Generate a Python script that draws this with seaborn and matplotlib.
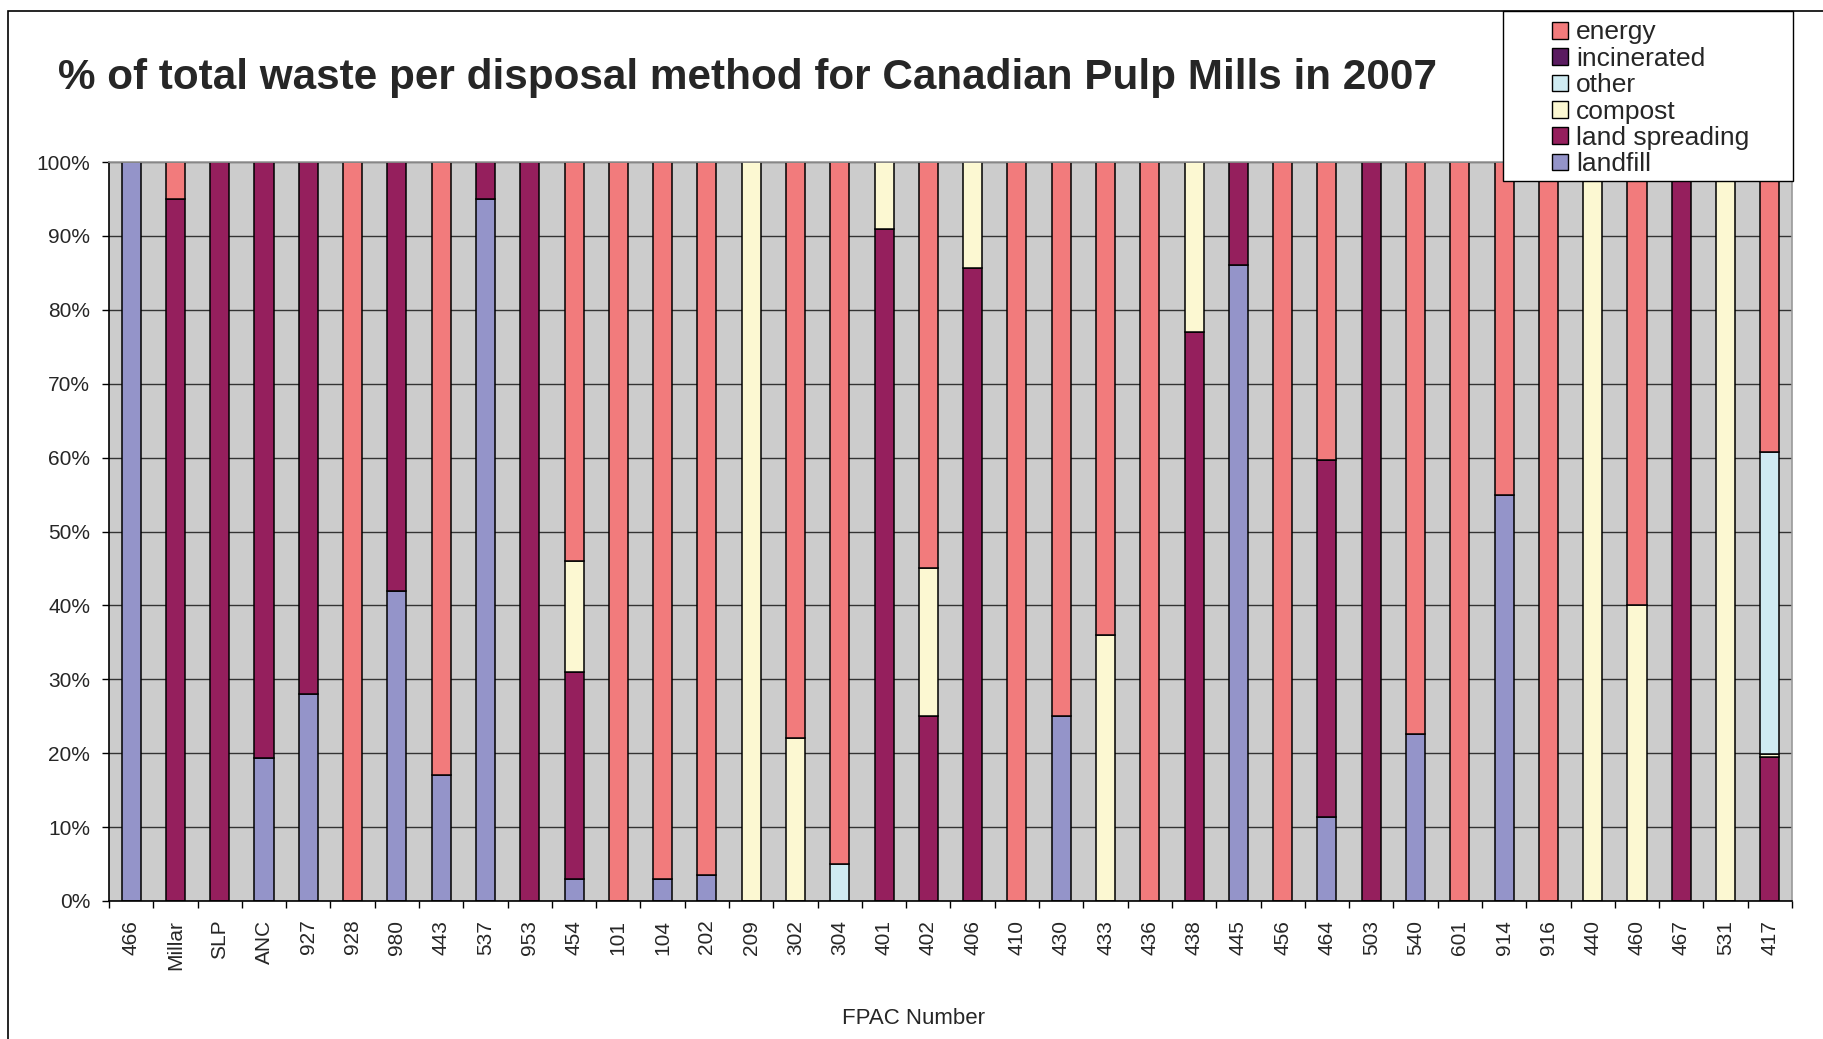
import numpy as np
import matplotlib
matplotlib.use("Agg")
import matplotlib.pyplot as plt
from matplotlib.patches import Patch, Rectangle
from matplotlib.ticker import PercentFormatter
import seaborn as sns

categories = ["466", "Millar", "SLP", "ANC", "927", "928", "980", "443", "537", "953",
              "454", "101", "104", "202", "209", "302", "304", "401", "402", "406",
              "410", "430", "433", "436", "438", "445", "456", "464", "503", "540",
              "601", "914", "916", "440", "460", "467", "531", "417"]

landfill = [100, 0, 0, 19.4, 28, 0, 42, 17, 95, 0,
            3, 0, 3, 3.5, 0, 0, 0, 0, 0, 0,
            0, 25, 0, 0, 0, 86, 0, 11.3, 0, 22.6,
            0, 55, 0, 0, 0, 0, 0, 0]
land_spreading = [0, 95, 100, 80.6, 72, 0, 58, 0, 5, 100,
                  28, 0, 0, 0, 0, 0, 0, 91, 25, 85.7,
                  0, 0, 0, 0, 77, 14, 0, 48.4, 100, 0,
                  0, 0, 0, 0, 0, 100, 0, 19.5]
compost = [0, 0, 0, 0, 0, 0, 0, 0, 0, 0,
           15, 0, 0, 0, 100, 22, 0, 9, 20, 14.3,
           0, 0, 36, 0, 23, 0, 0, 0, 0, 0,
           0, 0, 0, 100, 40, 0, 100, 0.4]
other = [0, 0, 0, 0, 0, 0, 0, 0, 0, 0,
         0, 0, 0, 0, 0, 0, 5, 0, 0, 0,
         0, 0, 0, 0, 0, 0, 0, 0, 0, 0,
         0, 0, 0, 0, 0, 0, 0, 40.9]
incinerated = [0, 0, 0, 0, 0, 0, 0, 0, 0, 0,
               0, 0, 0, 0, 0, 0, 0, 0, 0, 0,
               0, 0, 0, 0, 0, 0, 0, 0, 0, 0,
               0, 0, 0, 0, 0, 0, 0, 0]
energy = [0, 5, 0, 0, 0, 100, 0, 83, 0, 0,
          54, 100, 97, 96.5, 0, 78, 95, 0, 55, 0,
          100, 75, 64, 100, 0, 0, 100, 40.3, 0, 77.4,
          100, 45, 100, 0, 60, 0, 0, 39.2]

methods = ["landfill", "land spreading", "compost", "other", "incinerated", "energy"]
series = [landfill, land_spreading, compost, other, incinerated, energy]
colors = {
    "energy": "#F27B7C",
    "incinerated": "#5A1B60",
    "other": "#CFEBF2",
    "compost": "#FCF8D2",
    "land spreading": "#951F5D",
    "landfill": "#9494C9",
}

sns.set_style("white")
plt.rcParams["font.family"] = ["Liberation Sans", "DejaVu Sans"]

W, H = 1823, 1039
fig = plt.figure(figsize=(W / 100, H / 100), dpi=100)
fig.patch.set_facecolor("white")
ax = fig.add_axes([109 / W, 1 - 901 / H, (1792 - 109) / W, (901 - 162) / H])
ax.set_facecolor("#CCCCCC")

bottom = np.zeros(len(categories))
for name, vals in zip(methods, series):
    vals = np.asarray(vals, dtype=float)
    sns.barplot(x=categories, y=vals, order=categories, color=colors[name],
                saturation=1, width=0.43, bottom=bottom.copy(),
                edgecolor="black", linewidth=1.1, errorbar=None, ax=ax)
    bottom += vals

for p in ax.patches:
    if p.get_height() == 0:
        p.set_visible(False)

ax.set_ylim(0, 100)
ax.set_xlim(-0.5, len(categories) - 0.5)
ax.set_yticks(np.arange(0, 101, 10))
ax.yaxis.set_major_formatter(PercentFormatter(100, decimals=0))
ax.set_xticks(np.arange(len(categories)))
ax.set_xticklabels(categories, rotation=90)
ax.set_xticks(np.arange(-0.5, len(categories), 1), minor=True)
ax.tick_params(axis="x", which="major", length=0, pad=13.5, labelsize=15, bottom=True)
ax.tick_params(axis="x", which="minor", length=5, width=1, color="black",
               direction="out", bottom=True)
ax.tick_params(axis="y", which="major", length=5, width=1, color="black",
               direction="out", left=True, pad=8.5, labelsize=15)
ax.yaxis.grid(True, color="#333333", linewidth=1.0)
ax.xaxis.grid(False)
ax.set_axisbelow(True)
for s in ["left", "bottom"]:
    ax.spines[s].set_color("black")
    ax.spines[s].set_linewidth(1.2)
for s in ["top", "right"]:
    ax.spines[s].set_color("#999999")
    ax.spines[s].set_linewidth(1.2)
    ax.spines[s].set_visible(True)

ax.set_ylabel("")
ax.set_xlabel("FPAC Number", fontsize=16)
ax.xaxis.set_label_coords((913 - 109) / (1792 - 109), (901 - 1008) / (901 - 162))
ax.xaxis.label.set_va("top")

fig.text(58 / W, 1 - 89 / H,
         "% of total waste per disposal method for Canadian Pulp Mills in 2007",
         ha="left", va="baseline", fontsize=30.4, fontweight="bold")

# outer chart frame
fig.add_artist(Rectangle((8 / W, -0.5), 2.0, (1 - 11 / H) + 0.5,
                         transform=fig.transFigure, fill=False,
                         edgecolor="black", linewidth=1.2, zorder=3))
# legend frame
fig.add_artist(Rectangle((1503 / W, 1 - 181 / H), (1793 - 1503) / W, (181 - 11) / H,
                         transform=fig.transFigure, facecolor="white",
                         edgecolor="black", linewidth=1.0, zorder=4))

legend_order = ["energy", "incinerated", "other", "compost", "land spreading", "landfill"]
handles = [Patch(facecolor=colors[m], edgecolor="black", linewidth=1.0) for m in legend_order]
fig.legend(handles, legend_order, loc="upper left",
           bbox_to_anchor=(1552 / W, 1 - 20.5 / H), bbox_transform=fig.transFigure,
           frameon=False, borderpad=0, borderaxespad=0, fontsize=19,
           handlelength=0.6, handleheight=0.6, handletextpad=0.3, labelspacing=0.09)

fig.savefig("out.png", dpi=100)
